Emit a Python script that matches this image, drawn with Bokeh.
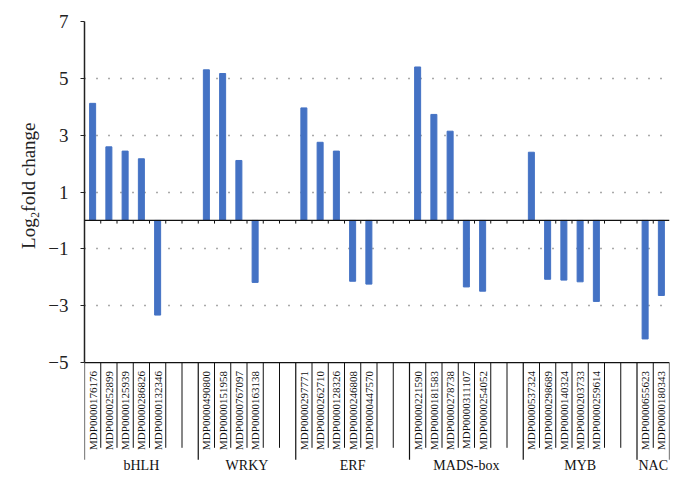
from bokeh.plotting import figure
from bokeh.models import Range1d, FixedTicker, Span, ColumnDataSource, Title
from bokeh.core.properties import value
from bokeh.embed import file_html
from bokeh.resources import INLINE

groups = ["bHLH", "WRKY", "ERF", "MADS-box", "MYB", "NAC"]
genes_bhlh = ["MDP0000176176", "MDP0000252899", "MDP0000125939", "MDP0000286826", "MDP0000132346"]
genes_wrky = ["MDP0000490800", "MDP0000151958", "MDP0000767097", "MDP0000163138"]
genes_erf = ["MDP0000297771", "MDP0000262710", "MDP0000128326", "MDP0000246808", "MDP0000447570"]
genes_mads = ["MDP0000221590", "MDP0000181583", "MDP0000278738", "MDP0000311107", "MDP0000254052"]
genes_myb = ["MDP0000537324", "MDP0000298689", "MDP0000140324", "MDP0000203733", "MDP0000259614"]
genes_nac = ["MDP0000655623", "MDP0000180343"]

vals_bhlh = [4.12, 2.59, 2.44, 2.17, -3.33]
vals_wrky = [5.30, 5.17, 2.11, -2.18]
vals_erf = [3.96, 2.75, 2.44, -2.14, -2.24]
vals_mads = [5.40, 3.73, 3.14, -2.34, -2.49]
vals_myb = [2.40, -2.07, -2.10, -2.16, -2.85]
vals_nac = [-4.17, -2.64]

y_ticks = [-5, -3, -1, 1, 3, 5, 7]
y_title = "Log\u2082fold change"

gene_lists = [genes_bhlh, genes_wrky, genes_erf, genes_mads, genes_myb, genes_nac]
val_lists = [vals_bhlh, vals_wrky, vals_erf, vals_mads, vals_myb, vals_nac]
BLANKS = 2

# slot layout
xs, vals, labels = [], [], []
group_bounds = [0]
group_centers = []
pos = 0
for gi, (gl, vl) in enumerate(zip(gene_lists, val_lists)):
    start = pos
    for g, v in zip(gl, vl):
        xs.append(pos + 0.5)
        vals.append(v)
        labels.append(g)
        pos += 1
    if gi < len(gene_lists) - 1:
        pos += BLANKS
    group_bounds.append(pos)
    group_centers.append((start + pos) / 2)
n_slots = pos

SERIF = "Liberation Serif"
PX_PER_UNIT = 28.42
FRAME_H = 453
y_top = 7
y_bot = y_top - FRAME_H / PX_PER_UNIT

p = figure(frame_width=585, frame_height=FRAME_H,
           min_border_left=84, min_border_right=5, min_border_top=21, min_border_bottom=0,
           x_range=Range1d(0, n_slots), y_range=Range1d(y_bot, y_top),
           x_axis_location=None, output_backend="svg", toolbar_location=None)
p.outline_line_color = None
p.background_fill_color = "white"
p.border_fill_color = "white"
p.xgrid.visible = False

p.ygrid.ticker = FixedTicker(ticks=[t for t in y_ticks if t > -5])
p.ygrid.grid_line_color = "#555555"
p.ygrid.grid_line_dash = "1 11"
p.ygrid.grid_line_width = 1.3

ax = p.yaxis[0]
ax.ticker = FixedTicker(ticks=y_ticks)
ax.bounds = (-5, 7)
ax.major_label_overrides = {t: (str(t) if t >= 0 else "\u2212" + str(-t)) for t in y_ticks}
ax.major_label_text_font = SERIF
ax.major_label_text_font_size = "19px"
ax.major_label_text_color = "#222222"
ax.major_label_standoff = 12
ax.major_tick_in = 0
ax.major_tick_out = 4
ax.minor_tick_line_color = None
ax.axis_line_color = "#222222"
ax.axis_line_width = 1.5
ax.major_tick_line_color = "#222222"

# y-axis title as a left-side title so it can sit level with the bounded axis
p.add_layout(Title(text=y_title, align="right", offset=101, standoff=14,
                   text_font=SERIF, text_font_size="19px", text_font_style="normal",
                   text_color="#222222"), "left")

src = ColumnDataSource(dict(x=xs, top=vals, label=labels))
p.vbar(x="x", top="top", bottom=0, width=0.37, source=src,
       fill_color="#4472C4", line_color="#4472C4")

# zero line and its ticks
p.add_layout(Span(location=0, dimension="width", line_color="#111111", line_width=1.2))
bounds_all = list(range(1, n_slots))
p.segment(x0=bounds_all, y0=[0] * len(bounds_all), x1=bounds_all,
          y1=[-0.11] * len(bounds_all), line_color="#111111", line_width=1)

# label table
p.add_layout(Span(location=-5, dimension="width", line_color="#111111", line_width=1.2))
inner = [b for b in range(0, n_slots + 1) if b not in group_bounds]
p.segment(x0=inner, y0=[-5] * len(inner), x1=inner, y1=[-8.0] * len(inner),
          line_color="#111111", line_width=1)
p.segment(x0=group_bounds, y0=[-5] * len(group_bounds), x1=group_bounds,
          y1=[-8.42] * len(group_bounds), line_color="#111111", line_width=1.2)

p.text(x="x", y=-5.3, text="label", source=src, angle=1.5708,
       text_align="right", text_baseline="middle",
       text_font=value(SERIF), text_font_size="11px", text_color="#111111")

p.text(x=group_centers, y=[-8.62] * len(groups), text=groups,
       text_align="center", text_baseline="middle",
       text_font=value(SERIF), text_font_size="14px", text_color="#111111")

open("out.html", "w").write(file_html(p, INLINE))
